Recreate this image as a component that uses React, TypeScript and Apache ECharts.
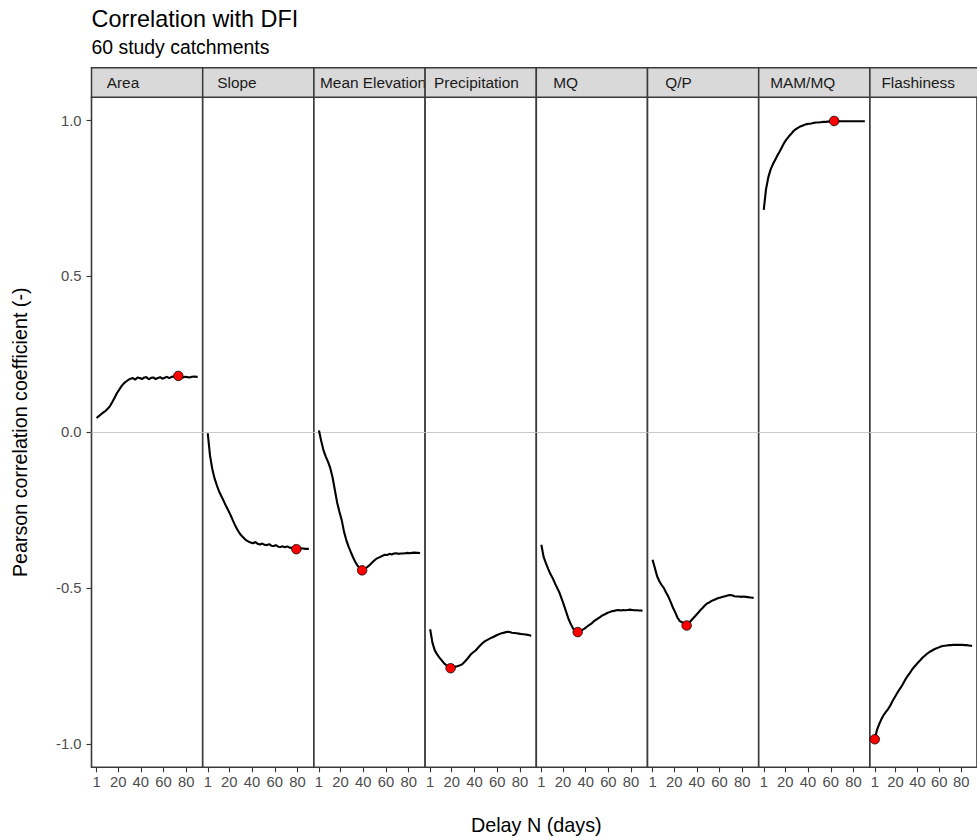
import { useEffect, useRef } from "react";
import * as echarts from "echarts";

const panels = ["Area", "Slope", "Mean Elevation", "Precipitation", "MQ", "Q/P", "MAM/MQ", "Flashiness"];

const delays = [1, 3, 5, 7, 9, 11, 13, 15, 17, 19, 21, 23, 25, 27, 29, 31, 33, 35, 37, 39, 41, 43, 45, 47, 49, 51, 53, 55, 57, 59, 61, 63, 65, 67, 69, 71, 73, 75, 77, 79, 81, 83, 85, 87, 89, 90];

const areaR = [0.046, 0.052, 0.058, 0.064, 0.069, 0.076, 0.085, 0.098, 0.112, 0.126, 0.137, 0.148, 0.157, 0.163, 0.168, 0.172, 0.174, 0.169, 0.176, 0.174, 0.171, 0.176, 0.177, 0.170, 0.175, 0.176, 0.171, 0.174, 0.177, 0.172, 0.175, 0.178, 0.174, 0.178, 0.179, 0.177, 0.181, 0.177, 0.176, 0.178, 0.177, 0.176, 0.178, 0.179, 0.178, 0.178];
const slopeR = [-0.003, -0.075, -0.118, -0.148, -0.170, -0.190, -0.205, -0.220, -0.236, -0.250, -0.265, -0.282, -0.298, -0.312, -0.324, -0.333, -0.340, -0.347, -0.351, -0.354, -0.356, -0.352, -0.358, -0.360, -0.357, -0.361, -0.362, -0.359, -0.364, -0.365, -0.362, -0.367, -0.368, -0.366, -0.369, -0.366, -0.370, -0.371, -0.372, -0.375, -0.373, -0.372, -0.373, -0.374, -0.374, -0.374];
const elevationR = [0.006, -0.028, -0.058, -0.078, -0.095, -0.115, -0.145, -0.185, -0.225, -0.255, -0.281, -0.318, -0.345, -0.366, -0.384, -0.401, -0.416, -0.428, -0.436, -0.443, -0.438, -0.434, -0.428, -0.421, -0.414, -0.407, -0.403, -0.400, -0.396, -0.393, -0.394, -0.390, -0.392, -0.389, -0.388, -0.390, -0.389, -0.389, -0.388, -0.387, -0.388, -0.387, -0.386, -0.387, -0.387, -0.388];
const precipR = [-0.632, -0.675, -0.699, -0.712, -0.722, -0.731, -0.740, -0.747, -0.752, -0.757, -0.754, -0.752, -0.751, -0.748, -0.745, -0.738, -0.730, -0.721, -0.712, -0.706, -0.700, -0.692, -0.684, -0.677, -0.671, -0.667, -0.663, -0.659, -0.656, -0.652, -0.649, -0.646, -0.644, -0.642, -0.640, -0.641, -0.643, -0.644, -0.645, -0.646, -0.647, -0.648, -0.649, -0.650, -0.652, -0.653];
const mqR = [-0.361, -0.400, -0.420, -0.438, -0.455, -0.468, -0.485, -0.500, -0.515, -0.535, -0.556, -0.578, -0.600, -0.616, -0.630, -0.637, -0.641, -0.635, -0.634, -0.630, -0.624, -0.619, -0.614, -0.607, -0.602, -0.597, -0.592, -0.587, -0.584, -0.580, -0.577, -0.574, -0.573, -0.571, -0.570, -0.572, -0.570, -0.571, -0.570, -0.569, -0.570, -0.571, -0.571, -0.572, -0.572, -0.573];
const qpR = [-0.409, -0.435, -0.462, -0.478, -0.490, -0.500, -0.515, -0.528, -0.545, -0.563, -0.578, -0.595, -0.606, -0.610, -0.611, -0.620, -0.612, -0.604, -0.596, -0.588, -0.580, -0.571, -0.564, -0.556, -0.549, -0.546, -0.541, -0.538, -0.535, -0.532, -0.530, -0.528, -0.526, -0.524, -0.522, -0.523, -0.526, -0.527, -0.527, -0.528, -0.527, -0.528, -0.529, -0.530, -0.531, -0.532];
const mamR = [0.714, 0.780, 0.818, 0.843, 0.860, 0.874, 0.888, 0.901, 0.915, 0.929, 0.940, 0.949, 0.957, 0.966, 0.972, 0.977, 0.981, 0.984, 0.987, 0.989, 0.990, 0.991, 0.993, 0.994, 0.994, 0.995, 0.996, 0.996, 0.997, 0.997, 0.998, 0.999, 0.998, 0.998, 0.998, 0.998, 0.998, 0.998, 0.998, 0.998, 0.998, 0.998, 0.998, 0.998, 0.998, 0.998];
const flashR = [-0.985, -0.955, -0.937, -0.921, -0.908, -0.898, -0.889, -0.878, -0.864, -0.852, -0.840, -0.828, -0.818, -0.806, -0.793, -0.782, -0.773, -0.762, -0.753, -0.745, -0.737, -0.730, -0.722, -0.716, -0.710, -0.705, -0.701, -0.697, -0.694, -0.691, -0.688, -0.686, -0.685, -0.684, -0.683, -0.683, -0.682, -0.682, -0.682, -0.682, -0.682, -0.683, -0.683, -0.684, -0.685, -0.686];

const seriesValues = [areaR, slopeR, elevationR, precipR, mqR, qpR, mamR, flashR];

const xTicks = [1, 20, 40, 60, 80];
const yTicks = [-1, -0.5, 0, 0.5, 1];

// layout
const FONT = '"Liberation Sans", Arial, Helvetica, sans-serif';
const PANEL_LEFT = 91.5;
const PANEL_W = 111.2;
const PANEL_TOP = 97.3;
const PANEL_H = 670;
const STRIP_TOP = 67.7;
const STRIP_LABEL_OFFSETS = [15.2, 14.6, 6.1, 9.0, 17, 17.8, 11.5, 11.5];

export default function App() {
  const ref = useRef<HTMLDivElement>(null);

  useEffect(() => {
    const chart = echarts.init(ref.current!, null, { renderer: "svg" });

    const grids: any[] = [];
    const xAxes: any[] = [];
    const yAxes: any[] = [];
    const series: any[] = [];
    const graphics: any[] = [];

    panels.forEach((name, i) => {
      const left = PANEL_LEFT + i * PANEL_W;
      grids.push({
        left,
        top: PANEL_TOP,
        width: PANEL_W,
        height: PANEL_H,
        show: true,
        backgroundColor: "#FFFFFF",
        borderColor: "#3A3A3A",
        borderWidth: 1.6,
        containLabel: false,
      });
      xAxes.push({
        type: "value",
        gridIndex: i,
        min: -3.45,
        max: 94.45,
        splitLine: { show: false },
        axisLine: { show: false, onZero: false },
        axisTick: {
          show: true,
          customValues: xTicks,
          length: 5,
          lineStyle: { color: "#333333", width: 1.1 },
        },
        axisLabel: {
          show: true,
          customValues: xTicks,
          margin: 7.5,
          fontSize: 14.8,
          fontFamily: FONT,
          color: "#4D4D4D",
          formatter: (v: number) => String(v),
        },
      });
      yAxes.push({
        type: "value",
        gridIndex: i,
        min: -1.075,
        max: 1.075,
        splitLine: { show: false },
        axisLine: { show: false, onZero: false },
        axisTick: {
          show: i === 0,
          customValues: yTicks,
          length: 5,
          lineStyle: { color: "#333333", width: 1.1 },
        },
        axisLabel: {
          show: i === 0,
          customValues: yTicks,
          margin: 10,
          fontSize: 14.8,
          fontFamily: FONT,
          color: "#4D4D4D",
          formatter: (v: number) => v.toFixed(1),
        },
      });

      const vals = seriesValues[i];
      let best = 0;
      vals.forEach((v, j) => {
        if (Math.abs(v) > Math.abs(vals[best])) best = j;
      });

      series.push({
        type: "line",
        xAxisIndex: i,
        yAxisIndex: i,
        data: delays.map((d, j) => [d, vals[j]]),
        showSymbol: false,
        symbol: "none",
        lineStyle: { color: "#000000", width: 2.1 },
        z: 3,
        silent: true,
        markLine: {
          silent: true,
          symbol: ["none", "none"],
          label: { show: false },
          lineStyle: { color: "#C4C4C4", width: 0.9, type: "solid" },
          data: [{ yAxis: 0 }],
          z: 1,
        },
      });
      series.push({
        type: "scatter",
        xAxisIndex: i,
        yAxisIndex: i,
        data: [[delays[best], vals[best]]],
        symbolSize: 9.5,
        itemStyle: { color: "#FF0000", borderColor: "#000000", borderWidth: 0.8, opacity: 1 },
        z: 4,
        silent: true,
      });

      graphics.push({
        type: "rect",
        z: 10 + i * 2,
        shape: { x: left, y: STRIP_TOP, width: PANEL_W, height: PANEL_TOP - STRIP_TOP },
        style: { fill: "#D9D9D9", stroke: "#3A3A3A", lineWidth: 1.5 },
      });
      graphics.push({
        type: "text",
        z: 11 + i * 2,
        x: left + STRIP_LABEL_OFFSETS[i],
        y: (STRIP_TOP + PANEL_TOP) / 2,
        style: {
          text: name,
          fontSize: 15.4,
          fontFamily: FONT,
          fill: "#1A1A1A",
          align: "left",
          verticalAlign: "middle",
        },
      });
    });

    graphics.push({
      type: "text",
      x: 91.5,
      y: 18.7,
      style: {
        text: "Correlation with DFI",
        fontSize: 23.4,
        fontFamily: FONT,
        fill: "#000000",
        align: "left",
        verticalAlign: "middle",
      },
    });
    graphics.push({
      type: "text",
      x: 91.5,
      y: 46.7,
      style: {
        text: "60 study catchments",
        fontSize: 19.4,
        fontFamily: FONT,
        fill: "#000000",
        align: "left",
        verticalAlign: "middle",
      },
    });
    graphics.push({
      type: "text",
      x: PANEL_LEFT + (PANEL_W * panels.length) / 2,
      y: 825,
      style: {
        text: "Delay N (days)",
        fontSize: 19.8,
        fontFamily: FONT,
        fill: "#000000",
        align: "center",
        verticalAlign: "middle",
      },
    });
    graphics.push({
      type: "text",
      x: 19.5,
      y: PANEL_TOP + PANEL_H / 2,
      rotation: Math.PI / 2,
      style: {
        text: "Pearson correlation coefficient (-)",
        fontSize: 19.7,
        fontFamily: FONT,
        fill: "#000000",
        align: "center",
        verticalAlign: "middle",
      },
    });

    chart.setOption({
      animation: false,
      backgroundColor: "#FFFFFF",
      grid: grids,
      xAxis: xAxes,
      yAxis: yAxes,
      series,
      graphic: { elements: graphics },
    });

    return () => chart.dispose();
  }, []);

  return (
    <div
      ref={ref}
      style={{ position: "fixed", left: 0, top: 0, width: 977, height: 837, background: "#FFFFFF" }}
    />
  );
}
